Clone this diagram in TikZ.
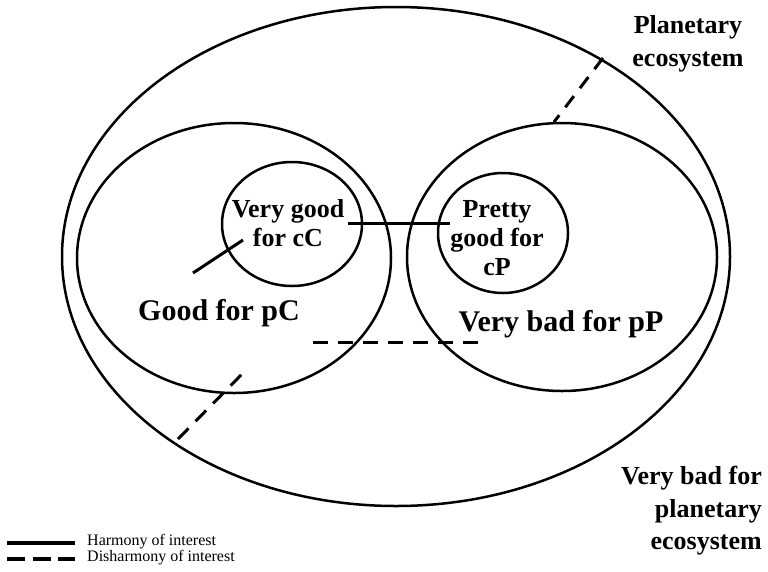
\documentclass[tikz,border=0pt]{standalone}
\usepackage{fontspec}
\setmainfont{Liberation Serif}
\begin{document}
\begin{tikzpicture}[x=1pt,y=-1pt,
  ring/.style={draw=black,line width=2.5pt},
  harmony/.style={draw=black,line width=3pt},
  disharmony/.style={draw=black,line width=3pt,dash pattern=on #1 off 10pt},
  disharmony/.default=14pt,
  biglbl/.style={font=\fontsize{30}{34}\selectfont\bfseries,align=center,inner sep=0pt},
  lbl/.style={font=\fontsize{26}{32.5}\selectfont\bfseries,align=center,inner sep=0pt},
  small/.style={font=\fontsize{26}{29}\selectfont\bfseries,align=center,inner sep=0pt},
  key/.style={font=\fontsize{16}{18}\selectfont,anchor=west,inner sep=0pt}]
\useasboundingbox (0,0) rectangle (768,571);
\fill[white] (0,0) rectangle (768,571);

% ecosystem and actor regions
\draw[ring] (396,256.5) ellipse [x radius=334pt, y radius=249.5pt];
\draw[ring] (234,258) ellipse [x radius=157pt, y radius=135pt];
\draw[ring] (562,257) ellipse [x radius=155pt, y radius=134pt];
\draw[ring] (292,224) ellipse [x radius=70pt, y radius=62pt];
\draw[ring] (503,233) ellipse [x radius=65pt, y radius=60pt];

% labels
\node[lbl] (planet) at (688,44) {Planetary\\ecosystem};
\node[lbl,align=right,anchor=east] (verybad) at (762,511) {Very bad for\\planetary\\ecosystem};
\node[biglbl] (goodpc) at (219,313) {Good for pC};
\node[biglbl] (badpp) at (561,324) {Very bad for pP};
\node[small] (goodcc) at (288,223) {Very good\\for cC};
\node[small] (goodcp) at (497,238) {Pretty\\good for\\cP};

% relations
\coordinate (h1a) at (348,223); \coordinate (h1b) at (450,223);
\coordinate (h2a) at (193,273); \coordinate (h2b) at (243,240);
\coordinate (d1a) at (313,342); \coordinate (d1b) at (480,342);
\coordinate (d2a) at (603,58);  \coordinate (d2b) at (554,122);
\coordinate (d3a) at (178,439); \coordinate (d3b) at (246,370);
\draw[harmony] (h1a) -- (h1b);
\draw[harmony] (h2a) -- (h2b);
\draw[disharmony=15pt] (d1a) -- (d1b);
\draw[disharmony=14pt] (d2a) -- (d2b);
\draw[disharmony=15pt] (d3a) -- (d3b);

% legend
\coordinate (ls1) at (7,543); \coordinate (ls2) at (75,543);
\coordinate (ld1) at (7,559); \coordinate (ld2) at (75,559);
\draw[black,line width=3.2pt] (ls1) -- (ls2);
\draw[black,line width=3.2pt,dash pattern=on 18pt off 7.5pt] (ld1) -- (ld2);
\node[key] (kh) at (87,542) {Harmony of interest};
\node[key] (kd) at (87,558) {Disharmony of interest};
\end{tikzpicture}
\end{document}
